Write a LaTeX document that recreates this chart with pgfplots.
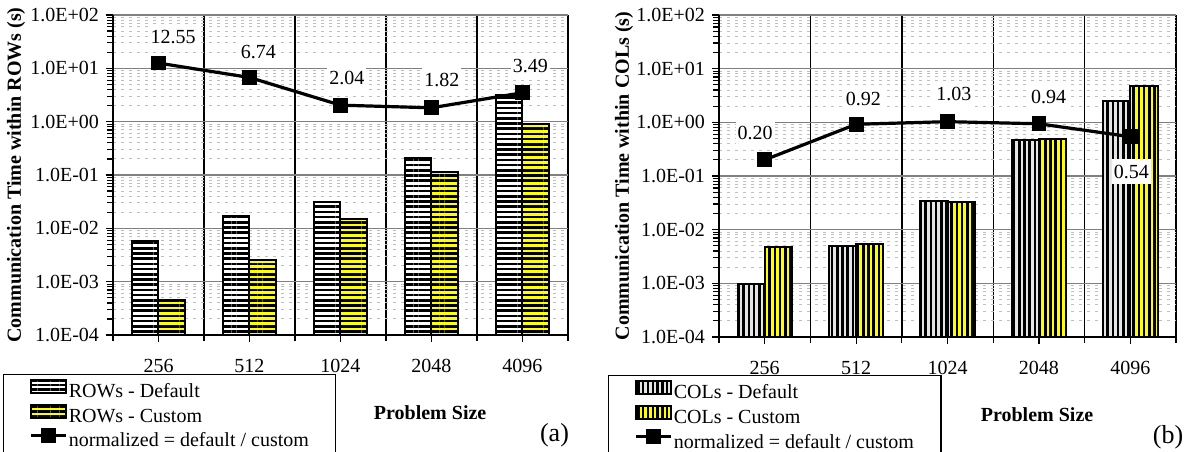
\documentclass[border=0pt]{standalone}
\usepackage{fontspec}
\setmainfont{Liberation Serif}
\usepackage{pgfplots}
\pgfplotsset{compat=1.18}
\usetikzlibrary{patterns.meta}

\definecolor{ylw}{RGB}{255,255,0}
\newcommand{\fnt}{\fontsize{10}{12}\selectfont}

\begin{document}
\begin{tikzpicture}
\path[use as bounding box] (0,0) rectangle (594pt,-225.5pt);

% ---------------- (a) ----------------
\begin{axis}[
  scale only axis,
  at={(56.5pt,-167.5pt)}, anchor=south west,
  width=227.5pt, height=160pt,
  ymode=log, ymin=1e-4, ymax=1e2, xmin=0.5, xmax=5.5,
  log origin=infty,
  axis lines=left, axis line style={-, black, line width=0.8pt},
  ytick={1e-4,1e-3,1e-2,1e-1,1,10,100},
  yticklabels={1.0E-04,1.0E-03,1.0E-02,1.0E-01,1.0E+00,1.0E+01,1.0E+02},
  minor ytick={2e-4,3e-4,4e-4,5e-4,6e-4,7e-4,8e-4,9e-4,2e-3,3e-3,4e-3,5e-3,6e-3,7e-3,8e-3,9e-3,2e-2,3e-2,4e-2,5e-2,6e-2,7e-2,8e-2,9e-2,0.2,0.3,0.4,0.5,0.6,0.7,0.8,0.9,2,3,4,5,6,7,8,9,20,30,40,50,60,70,80,90},
  xtick={1,2,3,4,5}, xticklabels={256,512,1024,2048,4096},
  minor xtick={0.5,1.5,2.5,3.5,4.5,5.5},
  tick align=outside, major tick length=3.5pt, minor tick length=3pt,
  tick style={black, line width=0.6pt},
  ymajorgrids, yminorgrids, xminorgrids,
  major grid style={gray, line width=0.8pt},
  minor grid style={gray!50, line width=0.5pt, dash pattern=on 1.5pt off 2.5pt},
  minor x grid style={black, line width=0.7pt, solid},
  tick label style={font=\fnt},
  xticklabel style={yshift=-5.2pt},
  ylabel={Communication Time within ROWs (s)},
  xlabel={Problem Size},
  every axis y label/.style={at={(axis description cs:-0.2132,0.5)}, rotate=90, anchor=center, font=\fnt\bfseries},
  every axis x label/.style={at={(axis description cs:0.697,-0.2438)}, anchor=center, font=\fnt\bfseries},
  legend cell align=left,
  legend style={at={(axis description cs:-0.2418,-0.1219)}, anchor=north west, draw=black, line width=0.6pt, font=\fnt,
    inner xsep=13pt, inner ysep=2pt, row sep=0.3pt,
    nodes={text height=7pt, text depth=2.2pt, inner sep=0.5pt}},
]
\addplot[ybar, bar width=13.3pt, bar shift=-6.65pt, draw=black, line width=1pt, preaction={fill=white},
    pattern={Lines[angle=0,distance=2.6pt,line width=1.3pt]}, pattern color=black,
    legend image code/.code={\draw[draw=black, line width=1pt, preaction={fill=white},
      pattern={Lines[angle=0,distance=2.2pt,line width=1.1pt]}, pattern color=black] (0pt,0pt) rectangle (17.5pt,6.5pt);}]
  coordinates {(1,0.0058) (2,0.017) (3,0.031) (4,0.21) (5,3.2)};
\addlegendentry{ROWs - Default}
\addplot[ybar, bar width=13.3pt, bar shift=6.65pt, draw=black, line width=1pt, preaction={fill=ylw},
    pattern={Lines[angle=0,distance=2.6pt,line width=1.3pt]}, pattern color=black,
    legend image code/.code={\draw[draw=black, line width=1pt, preaction={fill=ylw},
      pattern={Lines[angle=0,distance=2.2pt,line width=1.1pt]}, pattern color=black] (0pt,0pt) rectangle (17.5pt,6.5pt);}]
  coordinates {(1,0.00045) (2,0.0025) (3,0.015) (4,0.115) (5,0.92)};
\addlegendentry{ROWs - Custom}
\addplot[black, line width=1.6pt, mark=square*, mark size=2.9pt, mark options={solid, fill=black},
    nodes near coords, point meta=explicit symbolic,
    visualization depends on={value \thisrow{dx} \as \dx},
    visualization depends on={value \thisrow{dy} \as \dy},
    every node near coord/.append style={anchor=center, xshift=\dx pt, yshift=\dy pt,
      fill=white, inner xsep=1pt, inner ysep=3pt, font=\fnt, text=black},
    legend image code/.code={\draw[black, line width=1.6pt] (0pt,3.2pt) -- (17.5pt,3.2pt);
      \fill[black] (5.85pt,0.3pt) rectangle (11.65pt,6.1pt);}]
  table[x=x, y=y, meta=lab] {
x y lab dx dy
1 12.55 12.55 7.3 13
2 6.74 6.74 4.4 12.5
3 2.04 2.04 3.2 13.5
4 1.82 1.82 5.2 14
5 3.49 3.49 4 13.3
};
\addlegendentry{normalized = default / custom}
\end{axis}

% ---------------- (b) ----------------
\begin{axis}[
  scale only axis,
  at={(359.5pt,-168.5pt)}, anchor=south west,
  width=228.5pt, height=161pt,
  ymode=log, ymin=1e-4, ymax=1e2, xmin=0.5, xmax=5.5,
  log origin=infty,
  axis lines=left, axis line style={-, black, line width=0.8pt},
  ytick={1e-4,1e-3,1e-2,1e-1,1,10,100},
  yticklabels={1.0E-04,1.0E-03,1.0E-02,1.0E-01,1.0E+00,1.0E+01,1.0E+02},
  minor ytick={2e-4,3e-4,4e-4,5e-4,6e-4,7e-4,8e-4,9e-4,2e-3,3e-3,4e-3,5e-3,6e-3,7e-3,8e-3,9e-3,2e-2,3e-2,4e-2,5e-2,6e-2,7e-2,8e-2,9e-2,0.2,0.3,0.4,0.5,0.6,0.7,0.8,0.9,2,3,4,5,6,7,8,9,20,30,40,50,60,70,80,90},
  xtick={1,2,3,4,5}, xticklabels={256,512,1024,2048,4096},
  minor xtick={0.5,1.5,2.5,3.5,4.5,5.5},
  tick align=outside, major tick length=3.5pt, minor tick length=3pt,
  tick style={black, line width=0.6pt},
  ymajorgrids, yminorgrids, xminorgrids,
  major grid style={gray, line width=0.8pt},
  minor grid style={gray!50, line width=0.5pt, dash pattern=on 1.5pt off 2.5pt},
  minor x grid style={black, line width=0.7pt, solid},
  tick label style={font=\fnt},
  xticklabel style={yshift=-5.2pt},
  ylabel={Communication Time within COLs (s)},
  xlabel={Problem Size},
  every axis y label/.style={at={(axis description cs:-0.2079,0.5)}, rotate=90, anchor=center, font=\fnt\bfseries},
  every axis x label/.style={at={(axis description cs:0.696,-0.2422)}, anchor=center, font=\fnt\bfseries},
  legend cell align=left,
  legend style={at={(axis description cs:-0.2429,-0.118)}, anchor=north west, draw=black, line width=0.6pt, font=\fnt,
    inner xsep=13pt, inner ysep=2pt, row sep=0.3pt,
    nodes={text height=7pt, text depth=2.2pt, inner sep=0.5pt}},
]
\addplot[ybar, bar width=13.6pt, bar shift=-6.8pt, draw=black, line width=1pt, preaction={fill=gray!20},
    pattern={Lines[angle=90,distance=2.6pt,line width=1.3pt]}, pattern color=black,
    legend image code/.code={\draw[draw=black, line width=1pt, preaction={fill=gray!20},
      pattern={Lines[angle=90,distance=2.4pt,line width=1.2pt]}, pattern color=black] (0pt,0pt) rectangle (17.5pt,6.5pt);}]
  coordinates {(1,0.00098) (2,0.0049) (3,0.034) (4,0.46) (5,2.5)};
\addlegendentry{COLs - Default}
\addplot[ybar, bar width=13.6pt, bar shift=6.8pt, draw=black, line width=1pt, preaction={fill=ylw},
    pattern={Lines[angle=90,distance=2.6pt,line width=1.3pt]}, pattern color=black,
    legend image code/.code={\draw[draw=black, line width=1pt, preaction={fill=ylw},
      pattern={Lines[angle=90,distance=2.4pt,line width=1.2pt]}, pattern color=black] (0pt,0pt) rectangle (17.5pt,6.5pt);}]
  coordinates {(1,0.0047) (2,0.0053) (3,0.033) (4,0.48) (5,4.8)};
\addlegendentry{COLs - Custom}
\addplot[black, line width=1.6pt, mark=square*, mark size=2.9pt, mark options={solid, fill=black},
    nodes near coords, point meta=explicit symbolic,
    visualization depends on={value \thisrow{dx} \as \dx},
    visualization depends on={value \thisrow{dy} \as \dy},
    every node near coord/.append style={anchor=center, xshift=\dx pt, yshift=\dy pt,
      fill=white, inner xsep=1pt, inner ysep=3pt, font=\fnt, text=black},
    legend image code/.code={\draw[black, line width=1.6pt] (0pt,3.2pt) -- (17.5pt,3.2pt);
      \fill[black] (5.85pt,0.3pt) rectangle (11.65pt,6.1pt);}]
  table[x=x, y=y, meta=lab] {
x y lab dx dy
1 0.20 0.20 -4.8 13.3
2 0.92 0.92 3.6 12.8
3 1.03 1.03 3.2 13.6
4 0.94 0.94 4.8 13.3
5 0.54 0.54 0.5 -17.5
};
\addlegendentry{normalized = default / custom}
\end{axis}

\node[font=\fontsize{13}{15}\selectfont] at (277.25pt,-217.5pt) {(a)};
\node[font=\fontsize{13}{15}\selectfont] at (584pt,-218.5pt) {(b)};
\end{tikzpicture}
\end{document}
